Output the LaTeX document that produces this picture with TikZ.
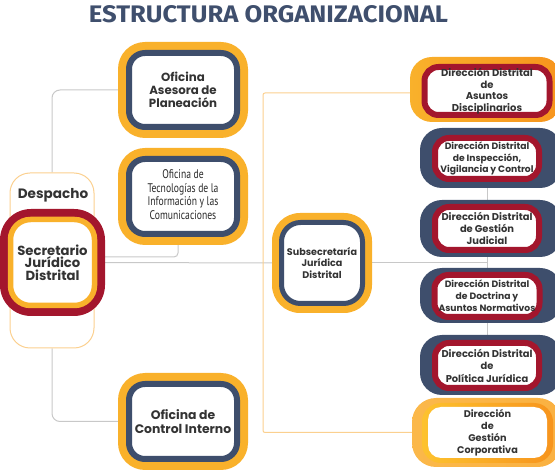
\documentclass[tikz,border=0pt]{standalone}
\usepackage{fontspec}
\usepackage{graphicx}
\setmainfont{Poppins}
\newfontfamily\narrowfont{PT Sans}
\newfontfamily\titlefont{Fira Sans}
\usetikzlibrary{backgrounds}

\definecolor{orgyellow}{HTML}{F9B12B}
\definecolor{orgblue}{HTML}{3E4E6C}
\definecolor{orgred}{HTML}{A3162D}
\definecolor{orgorange}{HTML}{F7941D}
\definecolor{orglight}{HTML}{FBB84A}
\definecolor{orgsun}{HTML}{FDC22E}
\definecolor{orgtext}{HTML}{333333}
\definecolor{linegrey}{HTML}{C8C8C8}
\definecolor{lineorange}{HTML}{FBD08F}
\definecolor{titleblue}{HTML}{3F4F6D}

\tikzset{
  ring/.style={draw=#1, fill=white, line width=6pt, inner sep=0pt, align=center, text=orgtext},
  link/.style={draw=linegrey, line width=1pt, rounded corners=8pt},
  bracket/.style={draw=lineorange, line width=1pt, rounded corners=2pt},
}
\newcommand{\narrowlines}[1]{\scalebox{0.77}[1]{\narrowfont\begin{tabular}{@{}c@{}}#1\end{tabular}}}

\begin{document}
\begin{tikzpicture}[x=1pt, y=-1pt]
\useasboundingbox (0,0) rectangle (555,470);
\clip (0,0) rectangle (555,470);

% title
\node[anchor=south, inner sep=0pt, text=titleblue] (title) at (268.5,23)
  {\resizebox{359pt}{17pt}{\titlefont\bfseries ESTRUCTURA ORGANIZACIONAL}};

% despacho
\node[draw=lineorange, line width=1pt, rounded corners=20pt, minimum width=84pt, minimum height=175pt] (desp) at (52,260.5) {};
\node[font=\fontsize{13.6}{14}\selectfont\bfseries, text=orgtext] (desplabel) at (53,195) {Despacho};

% outer pads
\fill[orgyellow, rounded corners=27pt] (118,42) rectangle (248,138);
\fill[orgyellow, rounded corners=27pt] (118,148) rectangle (248,245);
\fill[orgyellow, rounded corners=27pt] (118,373) rectangle (248,470);
\fill[orgyellow, rounded corners=28pt] (272,213) rectangle (372,313);
\fill[orgred, rounded corners=31pt] (0,209) rectangle (105,316);
\shade[left color=orgyellow, right color=orgorange, rounded corners=22pt] (410,57) rectangle (562,122);
\fill[orgblue, rounded corners=22pt] (420,128) rectangle (562,188);
\fill[orgblue, rounded corners=22pt] (420,200) rectangle (562,257);
\fill[orgblue, rounded corners=22pt] (420,268) rectangle (562,323);
\fill[orgblue, rounded corners=22pt] (420,335) rectangle (562,395);
\shade[left color=orglight, right color=orglight!80!orgorange, rounded corners=24pt] (412,398) rectangle (562,467);
\shade[left color=orgsun, right color=orgorange, rounded corners=19pt] (422,403) rectangle (553,463);

% boxes
\node[ring=orgyellow, line width=5.5pt, minimum width=84pt, minimum height=86pt, rounded corners=20pt,
  font=\fontsize{13.2}{12.3}\selectfont\bfseries] (secr) at (52.5,262.5) {Secretario\\Jurídico\\Distrital};
\node[ring=orgblue, minimum width=108pt, minimum height=74pt, rounded corners=16pt,
  font=\fontsize{11.8}{12.8}\selectfont\bfseries] (plan) at (183,90) {Oficina\\Asesora de\\Planeación};
\node[ring=orgblue, minimum width=108pt, minimum height=75pt, rounded corners=16pt,
  font=\fontsize{12.5}{13.5}\selectfont, text=orgtext!80!black] (tic) at (183,196.5)
  {\narrowlines{Oficina de\\Tecnologías de la\\Información y las\\Comunicaciones}};
\node[ring=orgblue, minimum width=108pt, minimum height=75pt, rounded corners=16pt,
  font=\fontsize{12.4}{14.2}\selectfont\bfseries] (ctrl) at (183,421.5) {Oficina de\\Control Interno};
\node[ring=orgblue, line width=5pt, minimum width=81pt, minimum height=81pt, rounded corners=19pt,
  font=\fontsize{9.6}{11.7}\selectfont\bfseries] (subs) at (322,263) {Subsecretaría\\Jurídica\\Distrital};

\node[ring=orgred, minimum width=125pt, minimum height=48pt, rounded corners=14pt,
  font=\fontsize{10}{11.5}\selectfont\bfseries] (asun) at (487,91) {Dirección Distrital\\de\\Asuntos\\Disciplinarios};
\node[ring=orgred, minimum width=104pt, minimum height=41pt, rounded corners=14pt,
  font=\fontsize{9.2}{11.7}\selectfont\bfseries] (insp) at (487,158.5) {Dirección Distrital\\de Inspección,\\Vigilancia y Control};
\node[ring=orgred, minimum width=104pt, minimum height=43pt, rounded corners=14pt,
  font=\fontsize{9.9}{12}\selectfont\bfseries] (judi) at (487,228.5) {Dirección Distrital\\de Gestión\\Judicial};
\node[ring=orgred, minimum width=105pt, minimum height=42pt, rounded corners=14pt,
  font=\fontsize{9.2}{12}\selectfont\bfseries] (doct) at (487,296) {Dirección Distrital\\de Doctrina y\\Asuntos Normativos};
\node[ring=orgred, minimum width=104pt, minimum height=45pt, rounded corners=14pt,
  font=\fontsize{9.9}{12.5}\selectfont\bfseries] (poli) at (487,365.5) {Dirección Distrital\\de\\Política Jurídica};
\node[fill=white, rounded corners=13pt, minimum width=119pt, minimum height=51pt, inner sep=0pt, align=center,
  text=orgtext, font=\fontsize{9.7}{12}\selectfont\bfseries] (corp) at (487.5,432.5) {Dirección\\de\\Gestión\\Corporativa};

\coordinate (brk) at (263,260);

% connectors
\begin{scope}[on background layer]
\draw[link] (desp.north) |- (plan.west);
\draw[link] (desp.south) |- (ctrl.west);
\draw[link, rounded corners=4pt] ([yshift=5.5pt]secr.east) -| ([xshift=-5pt]tic.south);
\draw[link] (secr.east) -- (subs.west);
\draw[link] (subs.east) -- (subs.east -| insp.south);
\draw[link] (insp.south) -- (poli.north);
\draw[bracket] ([yshift=-2pt]asun.west) -| (brk) |- (corp.west);
\end{scope}
\end{tikzpicture}
\end{document}
